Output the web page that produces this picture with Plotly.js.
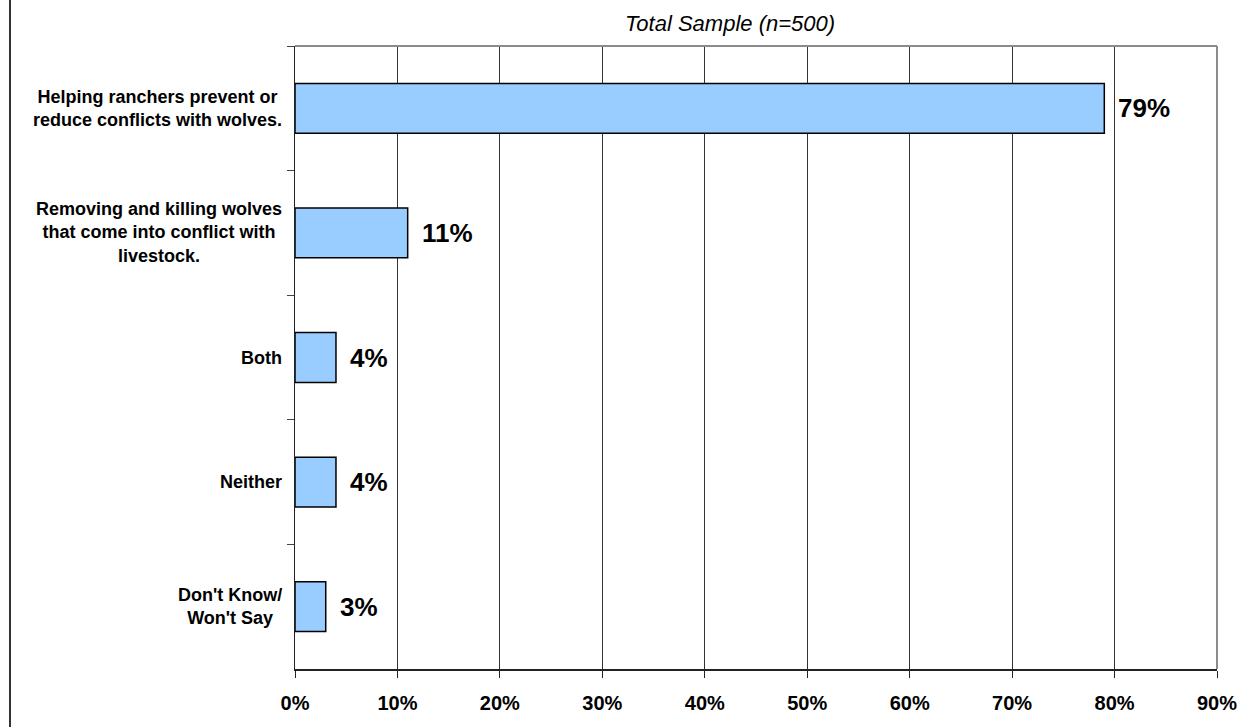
<!DOCTYPE html>
<html>
<head>
<meta charset="utf-8">
<script src="https://cdn.plot.ly/plotly-3.0.1.min.js"></script>
<style>
  html, body { margin: 0; padding: 0; background: #fff; }
  #wrap { position: relative; width: 1254px; height: 727px; }
  #chart { width: 1254px; height: 727px; }
  #frame { position: absolute; left: 9px; top: 0; width: 2px; height: 727px; background: #333; }
</style>
</head>
<body>
<div id="wrap">
  <div id="chart"></div>
  <div id="frame"></div>
</div>
<script>
const categories = [
  "Helping ranchers prevent or<br>reduce conflicts with wolves.",
  "Removing and killing wolves<br>that come into conflict with<br>livestock.",
  "Both",
  "Neither",
  "Don't Know/<br>Won't Say"
];
const values = [0.79, 0.11, 0.04, 0.04, 0.03];
const valueLabels = ["79%", "11%", "4%", "4%", "3%"];
const chartTitle = "Total Sample (n=500)";

const FONT = "Liberation Sans, Arial, sans-serif";

const trace = {
  type: "bar",
  orientation: "h",
  x: values,
  y: categories,
  width: 0.4,
  marker: { color: "#99CCFF", line: { color: "#000000", width: 1.5 } },
  hoverinfo: "none"
};

const annotations = [];
categories.forEach((c, i) => {
  annotations.push({
    xref: "paper", yref: "y", x: 0, y: c,
    xanchor: "right", yanchor: "middle", xshift: -11,
    text: "<b>" + c + "</b>", align: "center", showarrow: false,
    font: { family: FONT, size: 18, color: "#000" }
  });
  annotations.push({
    xref: "x", yref: "y", x: values[i], y: c,
    xanchor: "left", yanchor: "middle", xshift: 12,
    text: "<b>" + valueLabels[i] + "</b>", showarrow: false,
    font: { family: FONT, size: 26, color: "#000" }
  });
});

const layout = {
  width: 1254, height: 727,
  margin: { l: 295, r: 37, t: 46, b: 58 },
  paper_bgcolor: "#ffffff", plot_bgcolor: "#ffffff",
  showlegend: false,
  bargap: 0.6,
  title: {
    text: "<i>" + chartTitle + "</i>",
    xref: "container", x: 730 / 1254, xanchor: "center",
    yref: "container", y: 1 - 23 / 727, yanchor: "middle",
    font: { family: FONT, size: 22, color: "#000" }
  },
  xaxis: {
    range: [0, 0.9], dtick: 0.1, tick0: 0, tickformat: ".0%",
    showgrid: true, gridcolor: "#333333", gridwidth: 1,
    zeroline: false,
    showline: true, linecolor: "#222", linewidth: 2,
    ticks: "outside", ticklen: 7, tickcolor: "#222", tickwidth: 1,
    ticklabelstandoff: 8,
    tickfont: { family: FONT, size: 20, color: "#000", weight: "bold" },
    fixedrange: true
  },
  yaxis: {
    type: "category", autorange: "reversed",
    showticklabels: false, tickson: "boundaries",
    ticks: "outside", ticklen: 7, tickcolor: "#444", tickwidth: 1,
    showgrid: false, zeroline: false,
    showline: true, linecolor: "#222", linewidth: 1.5,
    fixedrange: true
  },
  shapes: [
    { type: "line", xref: "paper", yref: "paper", x0: 0, x1: 1, y0: 1, y1: 1,
      line: { color: "#8c8c8c", width: 2 }, layer: "above" },
    { type: "line", xref: "paper", yref: "paper", x0: 1, x1: 1, y0: 0, y1: 1,
      line: { color: "#8c8c8c", width: 2 }, layer: "above" }
  ],
  annotations: annotations
};

Plotly.newPlot("chart", [trace], layout, { staticPlot: true, displayModeBar: false });
</script>
</body>
</html>
